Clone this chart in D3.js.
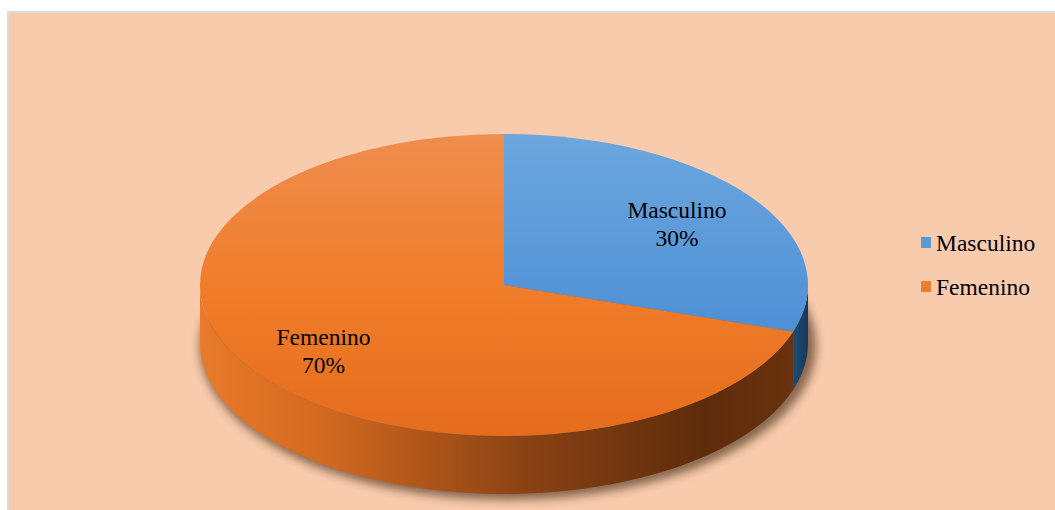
<!DOCTYPE html>
<html>
<head>
<meta charset="utf-8">
<script src="https://cdn.jsdelivr.net/npm/d3@7"></script>
<style>
  body { margin: 0; background: #fff; }
</style>
</head>
<body>
<svg id="chart" width="1055" height="510"></svg>
<script>
// data
const categories = ["Masculino", "Femenino"];
const values = [30, 70];
const labels = ["30%", "70%"];

const width = 1055, height = 510;
const cx = 504, cy = 285, rx = 304, ry = 151, depth = 58;
const k = ry / rx;
const serif = "'Liberation Serif', 'Times New Roman', 'DejaVu Serif', serif";
const fontSize = 23.5;

const svg = d3.select("#chart");
const defs = svg.append("defs");

// background panel
svg.append("rect")
  .attr("x", 8).attr("y", 12)
  .attr("width", width).attr("height", height)
  .attr("fill", "#F8CBAD")
  .attr("stroke", "#D9D9D9")
  .attr("stroke-width", 2);

// gradients
function linGrad(id, stops, x1, x2, y1, y2) {
  const g = defs.append("linearGradient").attr("id", id)
    .attr("x1", x1).attr("x2", x2).attr("y1", y1).attr("y2", y2);
  stops.forEach(s => g.append("stop").attr("offset", s[0]).attr("stop-color", s[1]));
}
linGrad("sideOrange", [[0, "#E87A2A"], [0.2, "#D46A20"], [0.55, "#8A4214"], [0.85, "#5E2C0C"], [1, "#6A320E"]], "0%", "100%", "0%", "0%");
linGrad("sideBlue", [[0, "#1E4B73"], [1, "#163A5C"]], "0%", "100%", "0%", "0%");
linGrad("topOrange", [[0, "#EE8D4E"], [0.5, "#F07D2A"], [1, "#E56C1C"]], "0%", "0%", "0%", "100%");
linGrad("topBlue", [[0, "#6CA6DD"], [1, "#4E90D6"]], "0%", "0%", "0%", "100%");

const blur = defs.append("filter").attr("id", "shadow")
  .attr("x", "-20%").attr("y", "-20%").attr("width", "140%").attr("height", "140%");
blur.append("feGaussianBlur").attr("stdDeviation", 5);

const color = d3.scaleOrdinal().domain(categories).range(["#5B9BD5", "#ED7D31"]);
const topFill = d3.scaleOrdinal().domain(categories).range(["url(#topBlue)", "url(#topOrange)"]);
const sideFill = d3.scaleOrdinal().domain(categories).range(["url(#sideBlue)", "url(#sideOrange)"]);

const pie = d3.pie().sort(null).value(d => d.value);
const arcs = pie(categories.map((c, i) => ({ name: c, value: values[i], label: labels[i] })));

// point on ellipse, angle measured clockwise from top
const px = a => cx + rx * Math.sin(a);
const py = (a, dy) => cy - ry * Math.cos(a) + dy;

// shadow under the pie
svg.append("ellipse")
  .attr("cx", cx + 4).attr("cy", cy + depth + 3)
  .attr("rx", rx + 4).attr("ry", ry + 3)
  .attr("fill", "#3a2010").attr("opacity", 0.6)
  .attr("filter", "url(#shadow)");

// sides (front half only)
function sidePath(a0, a1) {
  const s = Math.max(a0, Math.PI / 2), e = Math.min(a1, Math.PI * 1.5);
  if (e <= s) return null;
  const n = 60;
  const pts = d3.range(n + 1).map(i => s + (e - s) * i / n);
  let p = "M" + pts.map(a => px(a) + "," + py(a, 0)).join("L");
  p += "L" + pts.slice().reverse().map(a => px(a) + "," + py(a, depth)).join("L") + "Z";
  return p;
}
svg.append("g").selectAll("path")
  .data(arcs)
  .join("path")
  .attr("d", d => sidePath(d.startAngle, d.endAngle))
  .attr("fill", d => sideFill(d.data.name));

// top faces
const arc = d3.arc().innerRadius(0).outerRadius(rx);
svg.append("g")
  .attr("transform", `translate(${cx},${cy}) scale(1,${k})`)
  .selectAll("path")
  .data(arcs)
  .join("path")
  .attr("d", arc)
  .attr("fill", d => topFill(d.data.name));

// slice labels
const labelPos = [[677, 218], [323.5, 345]];
const lab = svg.append("g").selectAll("text")
  .data(arcs)
  .join("text")
  .attr("text-anchor", "middle")
  .attr("font-family", serif)
  .attr("font-size", fontSize)
  .attr("fill", "#000")
  .attr("x", (d, i) => labelPos[i][0])
  .attr("y", (d, i) => labelPos[i][1]);
lab.append("tspan").attr("x", (d, i) => labelPos[i][0]).text(d => d.data.name);
lab.append("tspan").attr("x", (d, i) => labelPos[i][0]).attr("dy", 27.5).text(d => d.data.label);

// legend
const legend = svg.append("g").attr("transform", "translate(921,237)");
const item = legend.selectAll("g")
  .data(categories)
  .join("g")
  .attr("transform", (d, i) => `translate(0,${i * 44})`);
item.append("rect")
  .attr("width", 10).attr("height", 11)
  .attr("fill", d => color(d));
item.append("text")
  .attr("x", 15).attr("y", 14)
  .attr("font-family", serif)
  .attr("font-size", fontSize)
  .text(d => d);
</script>
</body>
</html>
